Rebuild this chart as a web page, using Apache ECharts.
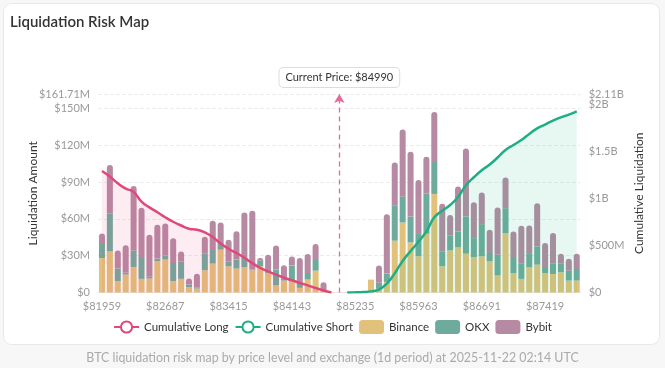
<!DOCTYPE html>
<html>
<head>
<meta charset="utf-8">
<script src="https://cdn.jsdelivr.net/npm/echarts@6/dist/echarts.min.js"></script>
<style>
html,body{margin:0;padding:0;background:#f7f7f7;}
#chart{width:665px;height:368px;}
</style>
</head>
<body>
<div id="chart"></div>
<script>
// Price levels (category axis)
const priceLevels = ['81959','82050','82141','82232','82323','82414','82505','82596','82687','82778','82869','82960','83051','83142','83233','83324','83415','83506','83597','83688','83779','83870','83961','84052','84143','84234','84325','84416','84507','84598','84990','85144','85235','85326','85417','85508','85599','85690','85781','85872','85963','86054','86145','86236','86327','86418','86509','86600','86691','86782','86873','86964','87055','87146','87237','87328','87419','87510','87601','87692','87783'];
const currentPrice = '84990';

// Liquidation amounts in $M per exchange
const binance = [28.1,33.5,9.2,14.6,20.8,11.1,11.4,25.4,26.8,9.2,11.1,4.3,3.2,18.1,23.5,34.9,21.3,19.5,20.5,18.1,21.3,16,5.7,9.7,9.2,3.8,10.5,17.8,0.5,0,0,0.2,0.3,0.4,10.5,3,8.6,42.2,57,40.8,29.5,47.8,80.3,21.4,34.3,36.8,31.6,28.9,29.5,25.4,13.8,48.4,15.7,11.1,20.5,22.7,15.9,15.1,16.5,9.7,9.7];
const okx = [12.2,30.6,10.3,1.4,13.5,17,1.4,2.2,3.5,14.9,14.3,2.2,0.6,13.5,11.9,5.4,4.1,7.3,8.1,0.6,4.6,0.8,13,1.6,12.7,4.1,5.4,8.7,0.3,0,0,0,0,0,0,5,6.8,28.9,21.1,21.1,18.9,33,26.8,12.2,11.9,13,30.3,15.4,26.2,6.8,17,20.3,13.2,12.4,11.6,14.9,4.1,8.4,7,8.1,9.5];
const bybit = [7.8,39.7,14.8,22.4,52.5,41,34.3,27.6,26,20,8.1,4.9,11.4,13.8,23,16.7,17.6,23,36.5,47.9,2.2,14,19.5,10.8,7.5,20.3,15.4,13,7.6,0,0,0,0,0,0,14,48.4,34.9,54.6,52.7,43.2,29.7,40,38.7,17,36.5,55.4,29.2,25.7,18.9,38.4,24.9,20.8,30.8,22.4,35.1,20.3,24.9,8.1,9.7,12.4];

// Cumulative liquidation in $M
const cumLong = [1291,1232,1160,1105,1070,965,905,853,800,752,712,678,667,640,590,520,465,420,370,312,262,225,190,157,130,102,76,48,22,0,null,null,null,null,null,null,null,null,null,null,null,null,null,null,null,null,null,null,null,null,null,null,null,null,null,null,null,null,null,null,null];
const cumShort = [null,null,null,null,null,null,null,null,null,null,null,null,null,null,null,null,null,null,null,null,null,null,null,null,null,null,null,null,null,null,null,0,2,5,12,30,95,205,335,440,540,650,800,868,930,1015,1140,1225,1300,1360,1435,1515,1568,1620,1685,1745,1785,1828,1862,1890,1925];

const leftMax = 161.71;   // $M
const rightMax = 2110;    // $M

const FONT = 'Lato, "Noto Sans", sans-serif';
const chart = echarts.init(document.getElementById('chart'), null, {renderer:'canvas'});

function fmtM(v){ return v === 0 ? '$0' : '$' + v + 'M'; }
function fmtB(v){ if (v === 0) return '$0'; if (v >= 1000) return '$' + (Math.round(v*100)/100000) + 'B'; return '$' + v + 'M'; }
const lblStyle = {color:'#999', fontSize:11, fontFamily:FONT};

chart.setOption({
  animation:false,
  textStyle:{fontFamily:FONT},
  graphic:[
    {type:'rect', z:-10, shape:{x:3.5,y:3.5,width:656,height:341,r:8}, style:{fill:'#ffffff',stroke:'#e8e8e8',lineWidth:1}},
    {type:'text', left:'center', top:352, style:{text:'BTC liquidation risk map by price level and exchange (1d period) at 2025-11-22 02:14 UTC', fill:'#aaaaaa', font:'12.4px ' + FONT}}
  ],
  title:{text:'Liquidation Risk Map', left:10, top:15, padding:0, textStyle:{fontSize:15, fontWeight:600, color:'#333', fontFamily:FONT}},
  legend:{
    bottom:29, left:'center', itemGap:6, itemWidth:25, itemHeight:14,
    textStyle:{fontSize:11.5, color:'#333', fontFamily:FONT},
    data:['Cumulative Long','Cumulative Short','Binance','OKX','Bybit']
  },
  grid:{left:98, right:84.3, top:94, bottom:75.5},
  xAxis:{
    type:'category', data:priceLevels,
    axisTick:{show:false},
    axisLine:{lineStyle:{color:'#e6e6e6'}},
    axisLabel:Object.assign({interval:7, formatter:v=>'$'+v}, lblStyle)
  },
  yAxis:[
    {type:'value', min:0, max:leftMax, interval:30, name:'Liquidation Amount', nameLocation:'middle', nameGap:59, nameMoveOverlap:false,
     nameTextStyle:{color:'#333', fontSize:12, fontFamily:FONT},
     axisLabel:Object.assign({formatter:fmtM, showMaxLabel:true}, lblStyle),
     splitLine:{lineStyle:{color:'#ececec', type:'dashed'}}},
    {type:'value', position:'right', min:0, max:rightMax, interval:500, name:'Cumulative Liquidation', nameLocation:'middle', nameGap:52, nameMoveOverlap:false,
     nameTextStyle:{color:'#333', fontSize:12, fontFamily:FONT},
     axisLabel:Object.assign({formatter:fmtB, showMaxLabel:false}, lblStyle),
     splitLine:{show:false}},
    {type:'value', position:'right', min:0, max:rightMax, interval:rightMax,
     axisLine:{show:false}, axisTick:{show:false}, splitLine:{show:false},
     axisLabel:Object.assign({formatter:v=>v===rightMax?fmtB(v):'', showMaxLabel:true, showMinLabel:false}, lblStyle)}
  ],
  series:[
    {name:'Binance', type:'bar', stack:'liq', data:binance, barCategoryGap:'24%', itemStyle:{color:'#e2c27a'}},
    {name:'OKX', type:'bar', stack:'liq', data:okx, itemStyle:{color:'#6fab9c'}},
    {name:'Bybit', type:'bar', stack:'liq', data:bybit, itemStyle:{color:'#b68aa3', borderRadius:[3,3,0,0]}},
    {name:'Cumulative Long', type:'line', yAxisIndex:1, data:cumLong, smooth:true, showSymbol:false, z:3,
     lineStyle:{color:'#e0487a', width:2.5}, itemStyle:{color:'#e0487a'},
     areaStyle:{color:'rgba(233,80,130,0.15)'},
     markLine:{
       silent:true, symbol:['none','arrow'], symbolSize:[8,9],
       lineStyle:{color:'#e8689a', type:[5,4], width:1.3, opacity:1},
       label:{show:true, position:'end', formatter:'Current Price: $' + currentPrice, color:'#333', fontSize:11, fontFamily:FONT,
              backgroundColor:'#fff', borderColor:'#dddddd', borderWidth:1, borderRadius:4, padding:[4,6], distance:7},
       data:[{xAxis:currentPrice}]
     }},
    {name:'Cumulative Short', type:'line', yAxisIndex:1, data:cumShort, smooth:true, showSymbol:false, z:3,
     lineStyle:{color:'#1fae84', width:2.5}, itemStyle:{color:'#1fae84'},
     areaStyle:{color:'rgba(30,190,130,0.15)'}}
  ]
});
</script>
</body>
</html>
